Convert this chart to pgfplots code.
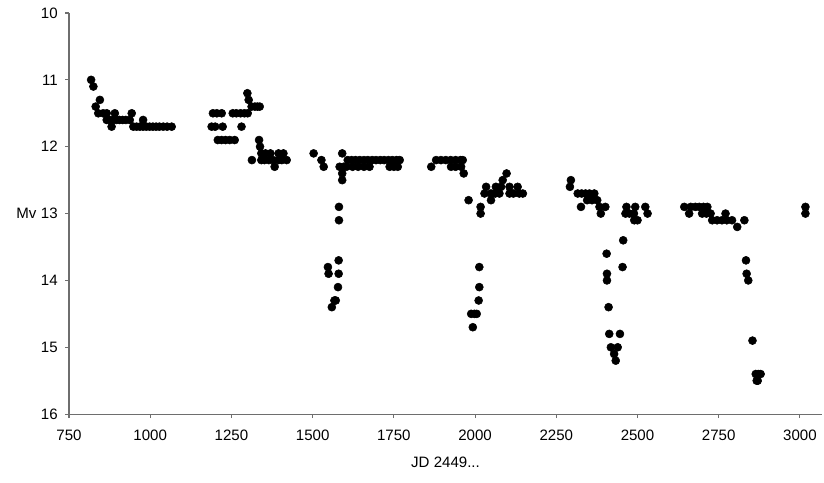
\documentclass[border=0pt]{standalone}
\usepackage{pgfplots}
\pgfplotsset{compat=1.18}
\usepackage{fontspec}
\setmainfont{Liberation Sans}
\definecolor{axgray}{RGB}{110,110,110}
\begin{document}
\begin{tikzpicture}
\begin{axis}[
  scale only axis,
  width=565pt, height=301pt,
  xmin=750, xmax=3068,
  ymin=10, ymax=16,
  y dir=reverse,
  xtick={750,1000,1250,1500,1750,2000,2250,2500,2750,3000},
  ytick={10,11,12,13,14,15,16},
  axis x line=bottom, axis y line=left,
  axis line style={-, axgray, line width=0.8pt},
  tick style={axgray, line width=0.8pt},
  tick align=outside,
  major tick length=3pt,
  /pgf/number format/assume math mode=true,
  /pgf/number format/1000 sep={},
  tick label style={font=\fontsize{11.3}{13}\selectfont},
  label style={font=\fontsize{11.3}{13}\selectfont},
  xticklabel style={yshift=-5pt},
  yticklabel style={xshift=-2pt},
  xlabel={JD 2449...},
  ylabel={Mv},
  ylabel style={at={(ticklabel cs:0.5)}, rotate=-90, anchor=east, xshift=3.5pt},
  xlabel style={yshift=-6pt},
  clip=false,
]
\addplot[only marks, mark=*, mark size=3pt, black] coordinates {
(818,11.0) (825,11.1) (845,11.3) (832,11.4) (840,11.5) (855,11.5) (866,11.5) (891,11.5) (943,11.5)
(866,11.6) (875,11.6) (885,11.6) (895,11.6) (905,11.6) (915,11.6) (925,11.6) (937,11.6) (978,11.6)
(881,11.7) (948,11.7) (958,11.7) (968,11.7) (978,11.7) (988,11.7) (998,11.7) (1008,11.7) (1018,11.7)
(1028,11.7) (1040,11.7) (1052,11.7) (1066,11.7)
(1193,11.5) (1205,11.5) (1220,11.5)
(1189,11.7) (1200,11.7) (1223,11.7)
(1208,11.9) (1220,11.9) (1232,11.9) (1245,11.9) (1260,11.9)
(1254,11.5) (1265,11.5) (1278,11.5) (1290,11.5) (1300,11.5)
(1281,11.7) (1299,11.2) (1303,11.3)
(1312,11.4) (1322,11.4) (1330,11.4) (1337,11.4)
(1335,11.9) (1338,12.0) (1313,12.2)
(1342,12.1) (1355,12.1) (1370,12.1) (1395,12.1) (1410,12.1)
(1342,12.2) (1352,12.2) (1365,12.2) (1378,12.2) (1395,12.2) (1405,12.2) (1420,12.2)
(1383,12.3)
(1503,12.1) (1527,12.2) (1534,12.3) (1591,12.1)
(1583,12.3) (1595,12.3) (1604,12.3) (1591,12.4) (1591,12.5)
(1608,12.2) (1620,12.2) (1632,12.2) (1645,12.2) (1658,12.2) (1670,12.2) (1683,12.2) (1695,12.2)
(1708,12.2) (1720,12.2) (1733,12.2) (1745,12.2) (1758,12.2) (1768,12.2)
(1623,12.3) (1640,12.3) (1658,12.3) (1675,12.3) (1737,12.3) (1750,12.3) (1762,12.3)
(1581,12.9) (1581,13.1) (1580,13.7) (1547,13.8) (1549,13.9) (1580,13.9) (1578,14.1) (1571,14.3) (1567,14.3) (1559,14.4)
(1865,12.3)
(1880,12.2) (1895,12.2) (1910,12.2) (1925,12.2) (1940,12.2) (1955,12.2) (1962,12.2)
(1926,12.3) (1940,12.3) (1957,12.3) (1965,12.4) (1980,12.8)
(2017,12.9) (2017,13.0) (2029,12.7) (2034,12.6) (2049,12.8)
(2049,12.7) (2062,12.7) (2075,12.7) (2064,12.6) (2080,12.6)
(2085,12.5) (2097,12.4) (2106,12.6)
(2106,12.7) (2118,12.7) (2136,12.7) (2147,12.7) (2131,12.6)
(2013,13.8) (2013,14.1) (2011,14.3) (1988,14.5) (1998,14.5) (2005,14.5) (1993,14.7)
(2295,12.5) (2292,12.6)
(2316,12.7) (2328,12.7) (2340,12.7) (2352,12.7) (2367,12.7)
(2326,12.9) (2345,12.8) (2360,12.8) (2376,12.8)
(2387,13.0) (2401,12.9) (2383,12.9)
(2466,12.9) (2493,12.9) (2524,12.9)
(2463,13.0) (2475,13.0) (2489,13.0) (2531,13.0)
(2490,13.1) (2500,13.1)
(2405,13.6) (2406,13.9) (2406,14.0) (2411,14.4) (2413,14.8) (2446,14.8) (2418,15.0) (2439,15.0)
(2428,15.1) (2433,15.2) (2456,13.4) (2454,13.8)
(2644,12.9) (2664,12.9) (2678,12.9) (2690,12.9) (2703,12.9) (2715,12.9)
(2659,13.0) (2699,13.0) (2712,13.0) (2725,13.0) (2771,13.0)
(2730,13.1) (2745,13.1) (2760,13.1) (2775,13.1) (2791,13.1)
(2807,13.2) (2829,13.1)
(3017,12.9) (3017,13.0)
(2834,13.7) (2836,13.9) (2841,14.0) (2854,14.9) (2864,15.4) (2872,15.4) (2879,15.4) (2867,15.5) (2870,15.5)
};
\coordinate (bl) at ([shift={(-51.8pt,-51pt)}]rel axis cs:0,0);
\coordinate (tr) at ([shift={(1.5pt,9.75pt)}]rel axis cs:1,1);
\end{axis}
\pgfresetboundingbox
\path[use as bounding box] (bl) rectangle (tr);
\end{tikzpicture}
\end{document}
